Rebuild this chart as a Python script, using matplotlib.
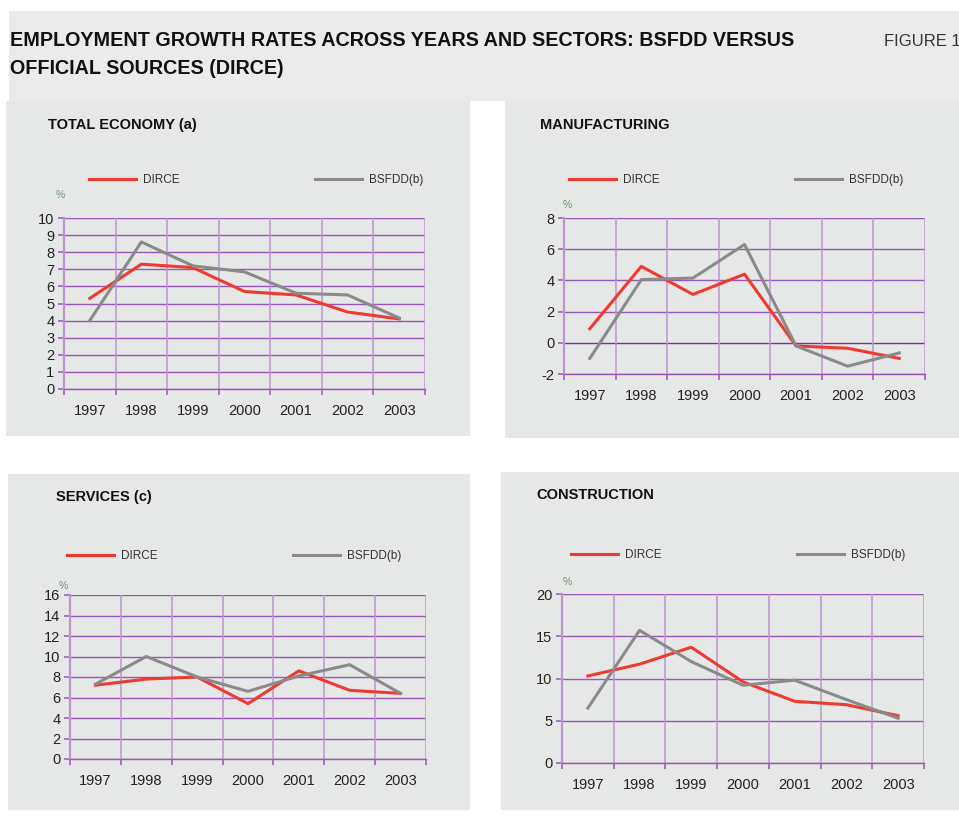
import matplotlib
matplotlib.use("Agg")
import matplotlib.pyplot as plt
from matplotlib.patches import Rectangle

plt.rcParams['font.family'] = ['Liberation Sans', 'DejaVu Sans']
plt.rcParams['axes.unicode_minus'] = False

# Datos
years = ["1997", "1998", "1999", "2000", "2001", "2002", "2003"]

total_dirce = [5.3, 7.3, 7.1, 5.7, 5.5, 4.5, 4.1]
total_bsfdd = [4.0, 8.6, 7.2, 6.85, 5.6, 5.5, 4.15]

manuf_dirce = [0.9, 4.9, 3.1, 4.4, -0.2, -0.35, -1.0]
manuf_bsfdd = [-1.0, 4.05, 4.15, 6.3, -0.2, -1.5, -0.65]

serv_dirce = [7.2, 7.8, 8.0, 5.4, 8.6, 6.7, 6.4]
serv_bsfdd = [7.3, 10.0, 8.0, 6.6, 8.1, 9.2, 6.4]

constr_dirce = [10.3, 11.7, 13.7, 9.6, 7.3, 6.9, 5.6]
constr_bsfdd = [6.5, 15.7, 12.0, 9.2, 9.8, 7.5, 5.3]

W, H = 959, 818
RED = "#ee3a2f"
GRAY = "#8a8a8a"
HGRID = "#9a55b8"
VGRID = "#bd96cf"
PANEL = "#e6e7e7"

fig = plt.figure(figsize=(W / 100, H / 100), dpi=100)
fig.patch.set_facecolor("white")


def px_rect(x0, y0, x1, y1):
    return [x0 / W, 1 - y1 / H, (x1 - x0) / W, (y1 - y0) / H]


def add_bg(x0, y0, x1, y1, color):
    fig.patches.append(Rectangle((x0 / W, 1 - y1 / H), (x1 - x0) / W, (y1 - y0) / H,
                                 transform=fig.transFigure, facecolor=color,
                                 edgecolor="none", zorder=-10))


def fig_text(x, y, s, **kw):
    fig.text(x / W, 1 - y / H, s, **kw)


# Fondos
add_bg(9, 11, 959, 101, "#ebebeb")
add_bg(6, 101, 470, 436, PANEL)
add_bg(505, 101, 959, 438, PANEL)
add_bg(8, 474, 470, 810, PANEL)
add_bg(501, 472, 959, 810, PANEL)

# Titulo general
fig_text(10, 40, "EMPLOYMENT GROWTH RATES ACROSS YEARS AND SECTORS: BSFDD VERSUS",
         fontsize=14.2, fontweight="bold", color="#111111", va="center")
fig_text(10, 68, "OFFICIAL SOURCES (DIRCE)",
         fontsize=14.2, fontweight="bold", color="#111111", va="center")
fig_text(884, 41, "FIGURE 1", fontsize=12, color="#333333", va="center")


def panel(box, title, title_xy, dirce, bsfdd, ylim, ystep, leg_xy, pct_xy):
    x0, y0, x1, y1 = box
    ax = fig.add_axes(px_rect(x0, y0, x1, y1))
    ax.set_facecolor("none")
    xs = list(range(len(years)))

    ax.plot(xs, dirce, color=RED, linewidth=2.2, label="DIRCE", zorder=3)
    ax.plot(xs, bsfdd, color=GRAY, linewidth=2.2, label="BSFDD(b)", zorder=3)

    ax.set_xlim(-0.5, len(years) - 0.5)
    ax.set_ylim(*ylim)
    ax.set_yticks(range(ylim[0], ylim[1] + 1, ystep))
    ax.set_xticks(xs)
    ax.set_xticklabels(years)
    ax.set_xticks([i - 0.5 for i in range(len(years) + 1)], minor=True)

    # rejilla
    for yv in range(ylim[0], ylim[1] + 1, ystep):
        c = "#7a2e9a" if (yv == 0 and ylim[0] < 0) else HGRID
        ax.axhline(yv, color=c, linewidth=1.0, zorder=1)
    for xv in range(len(years) + 1):
        ax.axvline(xv - 0.5, color=VGRID, linewidth=1.1, zorder=1)

    for s in ["top", "right"]:
        ax.spines[s].set_visible(False)
    ax.spines["left"].set_color(VGRID)
    ax.spines["left"].set_linewidth(1.6)
    ax.spines["bottom"].set_color(HGRID)
    ax.spines["bottom"].set_linewidth(1.0)

    ax.tick_params(axis="x", which="major", length=0, pad=11, labelsize=10.5,
                   labelcolor="#222222")
    ax.tick_params(axis="x", which="minor", length=4, width=1.1, color=HGRID)
    ax.tick_params(axis="y", length=4, width=1.1, color=HGRID, pad=3,
                   labelsize=10.5, labelcolor="#222222")

    yb, yt = y1, y0
    lx, ly = leg_xy
    ax.legend(loc="center left",
              bbox_to_anchor=((lx - x0) / (x1 - x0), (yb - ly) / (yb - yt)),
              ncol=2, frameon=False, fontsize=8.5, handlelength=4.0,
              handletextpad=0.6, columnspacing=11.4, borderpad=0,
              borderaxespad=0, labelcolor="#333333")

    px, py = pct_xy
    ax.text((px - x0) / (x1 - x0), (yb - py) / (yb - yt), "%",
            transform=ax.transAxes, fontsize=7.5, color="#6b9a6b",
            ha="center", va="center")

    fig_text(title_xy[0], title_xy[1], title, fontsize=10.5, fontweight="bold",
             color="#111111", va="center")
    return ax


panel((64, 218, 425, 389), "TOTAL ECONOMY (a)", (48, 125),
      total_dirce, total_bsfdd, (0, 10), 1, (89, 180), (60, 195))
panel((564, 218, 925, 374), "MANUFACTURING", (540, 125),
      manuf_dirce, manuf_bsfdd, (-2, 8), 2, (569, 180), (567, 205))
panel((70, 595, 426, 759), "SERVICES (c)", (56, 497),
      serv_dirce, serv_bsfdd, (0, 16), 2, (67, 556), (63, 586))
panel((562, 594, 924, 763), "CONSTRUCTION", (536, 495),
      constr_dirce, constr_bsfdd, (0, 20), 5, (571, 555), (567, 582))

fig.savefig("out.png", dpi=100)
